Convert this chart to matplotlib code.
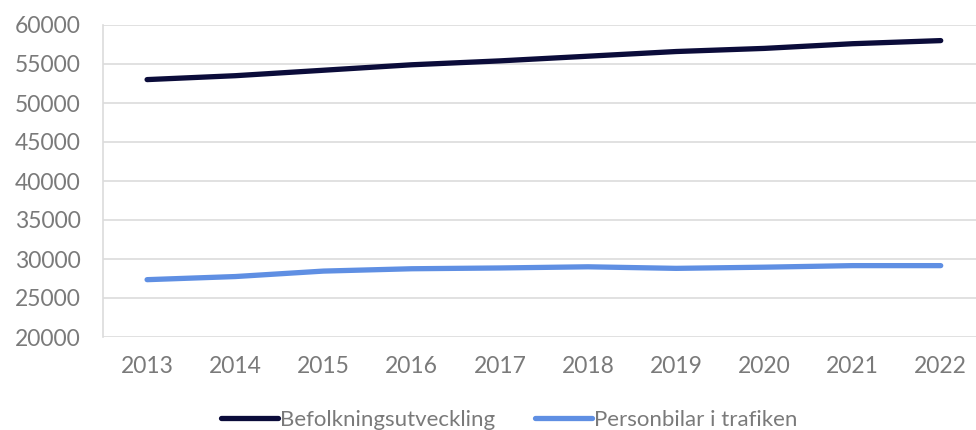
import matplotlib
matplotlib.use("Agg")
import matplotlib.pyplot as plt

# data
years = ['2013', '2014', '2015', '2016', '2017', '2018', '2019', '2020', '2021', '2022']
befolkning = [53000, 53500, 54200, 54900, 55400, 56000, 56600, 57000, 57600, 58000]
personbilar = [27350, 27750, 28450, 28750, 28850, 29000, 28800, 28950, 29150, 29150]

plt.rcParams['font.family'] = ['Lato', 'DejaVu Sans']

fig = plt.figure(figsize=(9.76, 4.30), dpi=100)
ax = fig.add_axes([103 / 976, 1 - 337 / 430, 873 / 976, (337 - 25) / 430])

x = range(len(years))
ax.plot(x, befolkning, color='#0b0c3a', lw=3.8, solid_capstyle='round',
        label='Befolkningsutveckling')
ax.plot(x, personbilar, color='#5f8fe3', lw=3.8, solid_capstyle='round',
        label='Personbilar i trafiken')

ax.set_xlim(-0.5, 9.4)
ax.set_ylim(20000, 60000)
ax.set_yticks(range(20000, 60001, 5000))
ax.set_xticks(list(x))
ax.set_xticklabels(years)

ax.grid(axis='y', color='#dcdcdc', lw=1.2)
ax.set_axisbelow(True)
for s in ['top', 'right', 'bottom']:
    ax.spines[s].set_visible(False)
ax.spines['left'].set_color('#dcdcdc')
ax.spines['left'].set_linewidth(1.2)

ax.tick_params(axis='both', length=0, labelsize=16.5, labelcolor='#7a7a7a')
ax.tick_params(axis='y', pad=16)
ax.tick_params(axis='x', pad=14)

fig.legend(loc='center', bbox_to_anchor=(0.522, 1 - 420 / 430), ncol=2, frameon=False,
           fontsize=16, labelcolor='#7a7a7a', handlelength=2.55, handletextpad=0.1,
           columnspacing=1.8)

fig.savefig('out.png', dpi=100)
